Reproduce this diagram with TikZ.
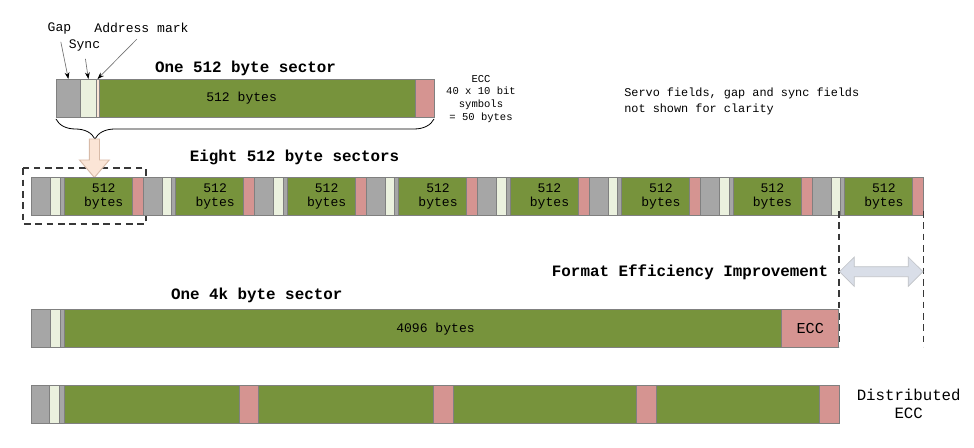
\documentclass[tikz,border=0pt]{standalone}
\usepackage{fontspec}
\setmainfont{Liberation Mono}
\usetikzlibrary{fit,arrows.meta,decorations.pathreplacing}

\definecolor{gapgray}{HTML}{A6A6A6}
\definecolor{syncwhite}{HTML}{EBF1DE}
\definecolor{datagreen}{HTML}{77933C}
\definecolor{eccred}{HTML}{D59491}
\definecolor{peach}{HTML}{FBE5D6}
\definecolor{peachline}{HTML}{D8BBA8}
\definecolor{gainblue}{HTML}{D9DEE8}

\begin{document}
\begin{tikzpicture}[x=0.75pt, y=-0.75pt,
  seg/.style={draw=black!50, line width=0.5pt, inner sep=0pt, outer sep=0pt},
  gapseg/.style={seg, fill=gapgray},
  syncseg/.style={seg, fill=syncwhite},
  addrseg/.style={seg, fill=gapgray},
  markseg/.style={seg, fill=peach},
  dataseg/.style={seg, fill=datagreen},
  eccseg/.style={seg, fill=eccred},
  title/.style={font=\fontsize{11.9}{14}\selectfont\bfseries, inner sep=0pt},
  bytetext/.style={font=\fontsize{9.8}{10.7}\selectfont, align=center, inner sep=0pt},
  fieldlabel/.style={font=\fontsize{9.8}{12}\selectfont, inner sep=1pt},
  pointer/.style={draw=black!55, line width=0.5pt, shorten <=5pt, -{Stealth[length=5pt, width=3.6pt, color=black]}},
  marker/.style={draw=black!78, line width=1.3pt, dash pattern=on 5pt off 3.5pt}
  ]
  \useasboundingbox (0,0) rectangle (974,448);

  % One 512 byte sector
  \node[gapseg, fit={(56,79) (80.7,117)}] (gapA) {};
  \node[syncseg, fit={(80.7,79) (96,117)}] (syncA) {};
  \node[markseg, fit={(96,79) (99,117)}] (addrA) {};
  \node[dataseg, fit={(99,79) (415.7,117)}] (dataA) {};
  \node[eccseg, fit={(415.7,79) (434,117)}] (eccA) {};
  \node[bytetext] (bytesA) at (241.6,98) {512 bytes};
  \node[title] (titleA) at (245.5,68) {One 512 byte sector};

  % Field labels
  \node[fieldlabel] (gaplbl) at (59.5,28) {Gap};
  \node[fieldlabel] (synclbl) at (84.5,45) {Sync};
  \node[fieldlabel] (addrlbl) at (141.5,28) {Address mark};
  \draw[pointer] (gaplbl.south) -- (gapA.north);
  \draw[pointer] (synclbl.south) -- (syncA.north);
  \draw[pointer] (addrlbl.south) -- (addrA.north);

  % ECC and servo notes
  \node[font=\fontsize{7.9}{9.45}\selectfont, align=center] (eccnote) at (481,98.8)
    {ECC\\40 x 10 bit\\symbols\\= 50 bytes};
  \node[font=\fontsize{8.9}{12}\selectfont, align=left, anchor=west, inner sep=0pt] (servonote) at (624,101.3)
    {Servo fields, gap and sync fields\\not shown for clarity};

  % Brace and block arrow
  \draw[decorate, decoration={brace, mirror, amplitude=15pt, aspect=0.103}, line width=0.6pt]
    (gapA.south west) ++(0,2) -- ([yshift=-1.5pt]eccA.south east);
  \draw[marker] (23,168.3) rectangle (146,224);
  \draw[fill=peach, draw=peachline, line width=0.7pt]
    (89.3,139) -- (99.5,139) -- (99.5,160) -- (109.3,160) -- (94.4,177.5)
    -- (79.5,160) -- (89.3,160) -- cycle;

  % Eight 512 byte sectors
  \node[title] (titleB) at (294.5,157.7) {Eight 512 byte sectors};
  \foreach \i in {0,...,7}{
    \pgfmathsetmacro{\s}{31.7+111.45*\i}
    \node[gapseg, fit={(\s,177.3) (\s+19,215.5)}] (gapB\i) {};
    \node[syncseg, fit={(\s+19,177.3) (\s+28.5,215.5)}] (syncB\i) {};
    \node[addrseg, fit={(\s+28.5,177.3) (\s+32.5,215.5)}] (addrB\i) {};
    \node[dataseg, fit={(\s+32.5,177.3) (\s+100.5,215.5)}] (dataB\i) {};
    \node[eccseg, fit={(\s+100.5,177.3) (\s+111.45,215.5)}] (eccB\i) {};
    \node[bytetext] (bytesB\i) at (\s+72,196.3) {512\\bytes};
  }

  % Format efficiency improvement
  \coordinate (effL) at (838.7,211);
  \coordinate (effR) at (923.5,211);
  \draw[marker] (effL) -- (838.7,347);
  \draw[marker] (effR) -- (923.5,347);
  \draw[fill=gainblue, draw=gainblue!70!black!60, line width=0.5pt]
    (839.5,271.7) -- (854.3,257) -- (854.3,266.7) -- (908.2,266.7) -- (908.2,257)
    -- (923,271.7) -- (908.2,286.4) -- (908.2,276.7) -- (854.3,276.7) -- (854.3,286.4) -- cycle;
  \node[title] (titleE) at (690,272) {Format Efficiency Improvement};

  % One 4k byte sector
  \node[title] (titleC) at (256.7,295) {One 4k byte sector};
  \node[gapseg, fit={(31.7,309.3) (50.7,347.5)}] (gapC) {};
  \node[syncseg, fit={(50.7,309.3) (60,347.5)}] (syncC) {};
  \node[addrseg, fit={(60,309.3) (64,347.5)}] (addrC) {};
  \node[dataseg, fit={(64,309.3) (781.7,347.5)}] (dataC) {};
  \node[eccseg, fit={(781.7,309.3) (838.7,347.5)}] (eccC) {};
  \node[bytetext] (bytesC) at (435.5,329) {4096 bytes};
  \node[font=\fontsize{11.4}{13}\selectfont, inner sep=0pt] (ecclblC) at (eccC.center) {ECC};

  % Distributed ECC
  \node[gapseg, fit={(31.7,385) (49.1,423.3)}] (gapD) {};
  \node[syncseg, fit={(49.1,385) (59.7,423.3)}] (syncD) {};
  \node[addrseg, fit={(59.7,385) (64,423.3)}] (addrD) {};
  \foreach \a/\b/\c [count=\k] in {64/239.4/258.7, 258.7/433.7/453, 453/636.8/656, 656/819.6/839}{
    \node[dataseg, fit={(\a,385) (\b,423.3)}] (dataD\k) {};
    \node[eccseg, fit={(\b,385) (\c,423.3)}] (eccD\k) {};
  }
  \node[font=\fontsize{11.8}{13.7}\selectfont, align=center] (distlbl) at (908.7,404.2) {Distributed\\ECC};
\end{tikzpicture}
\end{document}
